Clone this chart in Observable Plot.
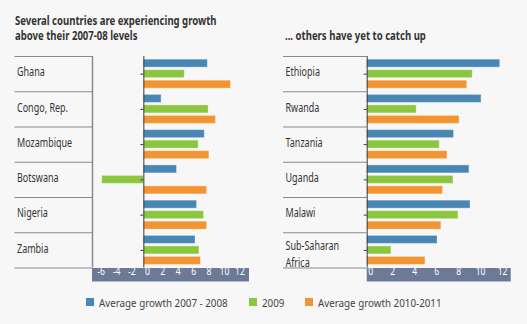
<!DOCTYPE html>
<html><head><meta charset="utf-8">
<script src="https://cdn.jsdelivr.net/npm/d3@7"></script>
<script src="https://cdn.jsdelivr.net/npm/@observablehq/plot@0.6"></script>
<style>
html,body{margin:0;padding:0;background:#f7f7f7;}
body{width:527px;height:324px;position:relative;overflow:hidden;font-family:"Noto Sans",sans-serif;color:#333;}
.title{position:absolute;font-weight:bold;font-size:12.5px;line-height:15.3px;color:#333;white-space:nowrap;transform:scaleX(0.765);transform-origin:0 0;}
#panelL{position:absolute;left:0;top:50px;}
#panelR{position:absolute;left:270px;top:50px;}
#legend{position:absolute;left:86px;top:295px;height:14px;display:flex;align-items:center;font-size:11px;color:#444;white-space:nowrap;}
.item{display:flex;align-items:center;margin-right:21px;}
.sw{width:8px;height:8px;display:inline-block;margin-right:5px;flex:none;}
.lt{display:inline-block;overflow:visible;}
.lt span{display:inline-block;transform-origin:0 50%;}
</style></head>
<body>
<div class="title" style="left:15px;top:13px">Several countries are experiencing growth<br>above their 2007-08 levels</div>
<div class="title" style="left:285px;top:28px">... others have yet to catch up</div>
<div id="panelL"></div>
<div id="panelR"></div>
<div id="legend"></div>
<script>
// ---- data ----
const seriesNames = ["Average growth 2007 - 2008", "2009", "Average growth 2010-2011"];
const seriesColors = ["#4a86b3", "#8cc63f", "#f39433"];

const leftCountries = ["Ghana", "Congo, Rep.", "Mozambique", "Botswana", "Nigeria", "Zambia"];
const leftGrowth0708 = [8.3, 2.3, 7.9, 4.3, 6.9, 6.7];
const leftGrowth2009 = [5.3, 8.4, 7.1, -5.4, 7.8, 7.2];
const leftGrowth1011 = [11.3, 9.35, 8.5, 8.2, 8.2, 7.4];
const leftTicks = [-6, -4, -2, 0, 2, 4, 6, 8, 10, 12];

const rightCountries = ["Ethiopia", "Rwanda", "Tanzania", "Uganda", "Malawi", "Sub-Saharan\nAfrica"];
const rightGrowth0708 = [12.1, 10.4, 7.9, 9.3, 9.4, 6.4];
const rightGrowth2009 = [9.6, 4.5, 6.6, 7.85, 8.3, 2.2];
const rightGrowth1011 = [9.1, 8.4, 7.3, 6.9, 6.75, 5.3];
const rightTicks = [0, 2, 4, 6, 8, 10, 12];

const bandColor = "#6d7a97";
const fontStack = '"Noto Sans",sans-serif';
const condense = 0.75;

function squeezeText(svg, s) {
  d3.select(svg).selectAll("text").each(function() {
    const el = d3.select(this);
    let t = el.attr("transform");
    if (!t) {
      const x = +(el.attr("x") || 0), y = +(el.attr("y") || 0);
      el.attr("x", null).attr("y", null);
      t = `translate(${x},${y})`;
    }
    el.attr("transform", `${t} scale(${s},1)`);
  });
  return svg;
}

function panel({countries, s0708, s2009, s1011, ticks, domain, width, marginLeft, marginRight, labelX, leftLine}) {
  const rowH = 35.25, marginTop = 6, bandH = 13.5;
  const height = marginTop + rowH * countries.length + bandH;
  const frameW = width - marginLeft - marginRight;
  const rows = countries.map((c, i) => ({country: c, v: [s0708[i], s2009[i], s1011[i]]}));
  const barH = 8, pad = 3.15, step = 10.5;
  const bars = [0, 1, 2].map(j => Plot.barX(rows, {
    y: "country", x1: 0, x2: d => d.v[j], fill: seriesColors[j],
    stroke: "#ffffff", strokeOpacity: 0.35, strokeWidth: 1,
    insetTop: pad + j * step, insetBottom: rowH - pad - j * step - barH
  }));
  const last = countries[countries.length - 1];
  const marks = [
    Plot.ruleY(countries, {y: d => d, dy: -rowH / 2, stroke: "#8a8a8a", strokeWidth: 1.2,
      insetLeft: -(marginLeft - labelX + 2), insetRight: frameW}),
    Plot.ruleY([last], {y: d => d, dy: rowH / 2, stroke: "#8a8a8a", strokeWidth: 1.2,
      insetLeft: -(marginLeft - labelX + 2), insetRight: frameW}),
    Plot.ruleY([last], {y: d => d, dy: rowH / 2 + bandH / 2, stroke: bandColor, strokeWidth: bandH}),
    ...bars,
    ...(leftLine ? [Plot.ruleX([domain[0]], {stroke: "#8a8a8a", strokeWidth: 1.5})] : []),
    Plot.ruleX([0], {stroke: "#3a3a3a", strokeWidth: 1}),
    Plot.ruleY(countries, {y: d => d, x1: 0, x2: 0, insetLeft: -3, stroke: "#3a3a3a"}),
    Plot.text(countries.filter(c => !c.includes("\n")), {y: d => d, text: d => d, frameAnchor: "left",
      textAnchor: "start", dx: -(marginLeft - labelX), dy: -1.5, fill: "#333", fontSize: 12}),
    Plot.text(countries.filter(c => c.includes("\n")), {y: d => d, text: d => d, frameAnchor: "left",
      textAnchor: "start", dx: -(marginLeft - labelX), dy: 2.5, lineHeight: 1.4, fill: "#333", fontSize: 12}),
    Plot.text(ticks, {x: d => d, text: d => String(d), frameAnchor: "bottom", dy: bandH / 2 + 0.5, dx: 3.5,
      fill: "#ffffff", fontSize: 11.5})
  ];
  const svg = Plot.plot({
    width, height, marginLeft, marginRight, marginTop, marginBottom: bandH,
    x: {domain, axis: null},
    y: {domain: countries, axis: null, padding: 0, round: false},
    style: {background: "transparent", overflow: "visible", fontFamily: fontStack, fontSize: "12px"},
    marks
  });
  return squeezeText(svg, condense);
}

document.getElementById("panelL").appendChild(panel({
  countries: leftCountries, s0708: leftGrowth0708, s2009: leftGrowth2009, s1011: leftGrowth1011,
  ticks: leftTicks, domain: [-6.66, 13.7], width: 260, marginLeft: 92, marginRight: 11, labelX: 16.5, leftLine: true
}));
document.getElementById("panelR").appendChild(panel({
  countries: rightCountries, s0708: rightGrowth0708, s2009: rightGrowth2009, s1011: rightGrowth1011,
  ticks: rightTicks, domain: [0, 13.1], width: 257, marginLeft: 96.7, marginRight: 16.3, labelX: 15, leftLine: false
}));

const legend = document.getElementById("legend");
const legendSqueeze = 0.89;
seriesNames.forEach((name, i) => {
  const item = document.createElement("div");
  item.className = "item";
  const sw = document.createElement("span");
  sw.className = "sw";
  sw.style.background = seriesColors[i];
  const lt = document.createElement("span");
  lt.className = "lt";
  const inner = document.createElement("span");
  inner.textContent = name;
  lt.appendChild(inner);
  item.appendChild(sw);
  item.appendChild(lt);
  legend.appendChild(item);
  const w = inner.getBoundingClientRect().width;
  inner.style.transform = `scaleX(${legendSqueeze})`;
  lt.style.width = (w * legendSqueeze) + "px";
});
</script>
</body></html>
